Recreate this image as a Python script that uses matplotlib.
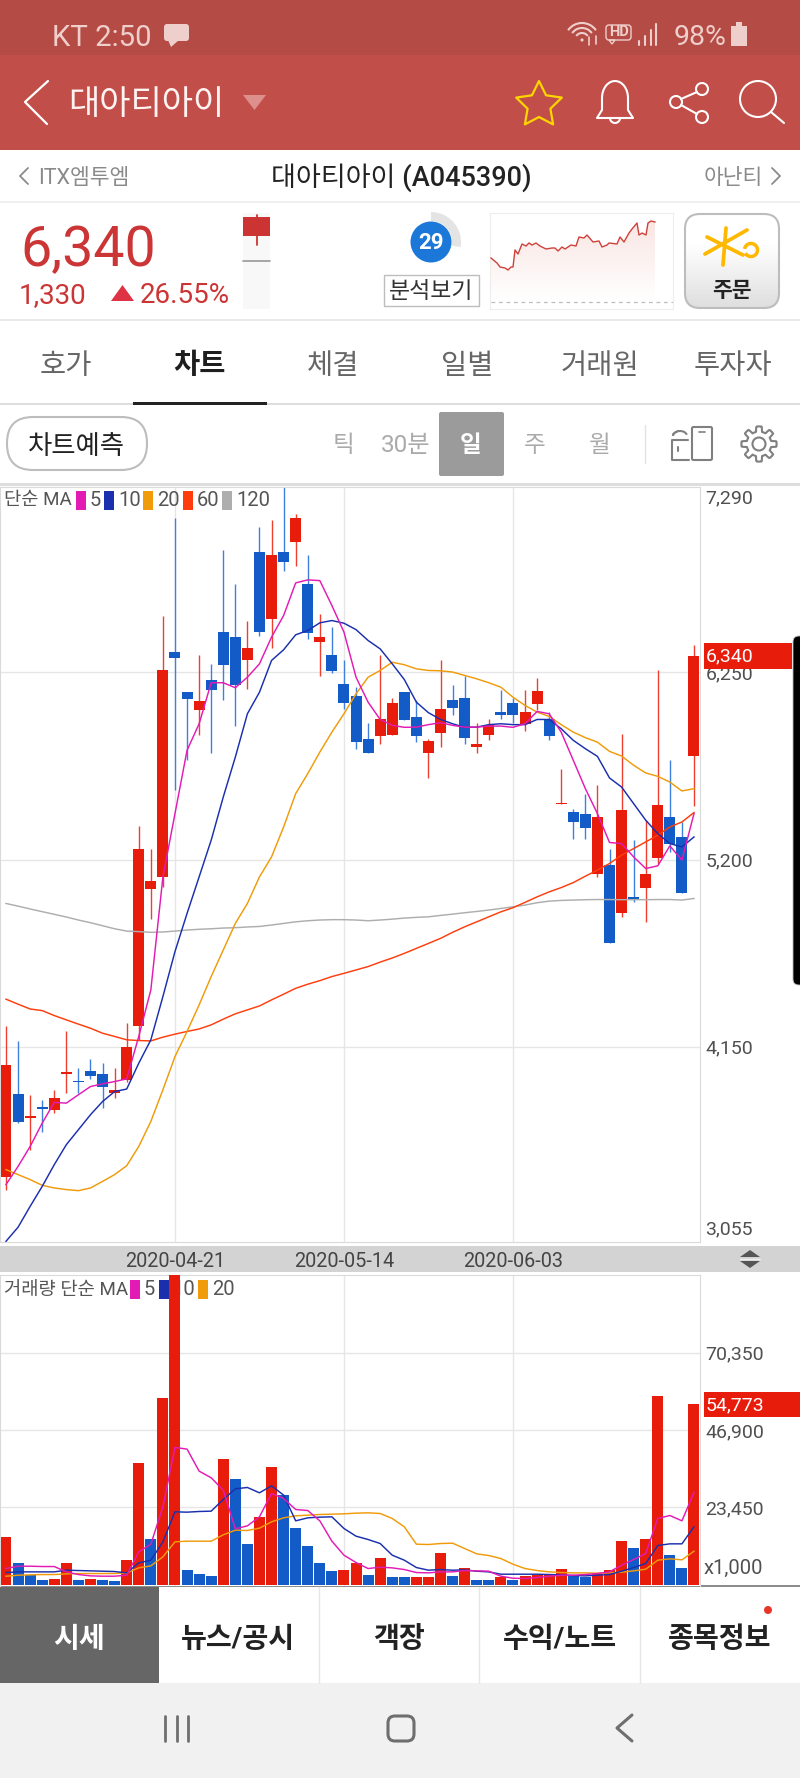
import numpy as np
import matplotlib
matplotlib.use('Agg')
import matplotlib.pyplot as plt
from matplotlib.colors import LinearSegmentedColormap
from matplotlib.patches import Rectangle, FancyBboxPatch, Circle, Wedge, Polygon, Arc

plt.rcParams['font.family'] = ['Roboto', 'Noto Sans CJK KR', 'DejaVu Sans']

W, H = 800, 1778

opens = [3418, 3885, 3752, 3810, 3793, 3995, 3958, 4015, 3995, 3890, 3961, 4267, 5033, 5103, 6367, 6138, 6040, 6209, 6477,
         6448, 6321, 6927, 6550, 6927, 6980, 6748, 6420, 6349, 6186, 6117, 5878, 5891, 5900, 6138, 5998, 5800, 5912, 6096,
         6108, 5830, 5900, 6027, 6076, 5958, 6070, 5986, 5510, 5467, 5458, 5122, 5167, 4902, 4988, 5040, 5210, 5437, 5327, 5779]
closes = [4049, 3728, 3763, 3802, 3864, 4007, 3950, 3987, 3927, 3909, 4148, 5258, 5079, 6266, 6330, 6100, 6087, 6149, 6289,
          6181, 6388, 6479, 6907, 6869, 7116, 6470, 6448, 6257, 6080, 5859, 5800, 5986, 6078, 5981, 5891, 5867, 6046, 6052,
          5882, 5846, 5957, 6009, 6009, 6026, 6147, 5891, 5518, 5411, 5380, 5437, 4730, 5477, 4980, 5118, 5508, 5290, 5010, 6340]
highs = [4264, 4185, 3881, 3853, 3905, 4239, 4030, 4084, 4058, 4030, 4282, 5389, 5258, 6569, 7116, 6138, 6349, 6298, 6937,
         6746, 6537, 7067, 7107, 7288, 7138, 6909, 6578, 6507, 6321, 6167, 5968, 6349, 6108, 6138, 6093, 5878, 6317, 6177,
         6229, 5968, 5986, 6149, 6108, 6149, 6218, 6027, 5708, 5486, 5570, 5617, 5258, 5906, 5309, 5424, 6266, 5757, 5411, 6406]
lows = [3349, 3722, 3569, 3672, 3778, 3890, 3890, 3970, 3806, 3862, 3955, 4189, 4865, 5044, 5589, 5760, 5897, 5800, 6098,
        5949, 6158, 6457, 6388, 6817, 6849, 6438, 6229, 6248, 6046, 5820, 5800, 5850, 5900, 5981, 5859, 5660, 5831, 6009,
        5850, 5800, 5869, 5988, 5968, 5921, 6037, 5871, 5510, 5318, 5318, 5100, 4730, 4876, 4963, 4851, 5178, 5240, 5010, 5499]

ma5 = [3377, 3479, 3591, 3722, 3838, 3834, 3881, 3927, 3942, 3955, 3970, 4208, 4469, 5103, 5458, 5813, 5962, 6192, 6192,
       6164, 6223, 6298, 6448, 6569, 6752, 6769, 6765, 6625, 6476, 6223, 6083, 5986, 5953, 5942, 5943, 5957, 5968, 5953,
       5943, 5943, 5949, 5949, 5942, 5962, 6031, 6018, 5915, 5757, 5598, 5458, 5296, 5290, 5215, 5150, 5165, 5277, 5197, 5458]
ma10 = [3059, 3138, 3255, 3367, 3489, 3601, 3685, 3769, 3843, 3899, 3913, 4058, 4189, 4432, 4684, 4898, 5103, 5309, 5551,
        5775, 6018, 6139, 6317, 6377, 6461, 6485, 6528, 6541, 6526, 6490, 6429, 6382, 6298, 6210, 6083, 6024, 5986, 5962,
        5942, 5943, 5957, 5962, 5957, 5957, 5986, 5986, 5934, 5869, 5822, 5779, 5658, 5607, 5514, 5421, 5346, 5290, 5271, 5327]
ma20 = [3461, 3433, 3405, 3373, 3358, 3349, 3343, 3358, 3395, 3433, 3483, 3591, 3731, 3909, 4095, 4236, 4385, 4544, 4693,
        4842, 4954, 5103, 5215, 5383, 5570, 5682, 5803, 5915, 6018, 6130, 6223, 6261, 6307, 6293, 6270, 6261, 6259, 6252,
        6233, 6214, 6192, 6167, 6111, 6065, 6027, 6003, 5957, 5915, 5884, 5859, 5807, 5781, 5729, 5686, 5667, 5635, 5585, 5598]
ma60 = [4417, 4389, 4362, 4353, 4325, 4301, 4277, 4254, 4226, 4208, 4189, 4185, 4183, 4204, 4221, 4236, 4250, 4273, 4305,
        4335, 4357, 4379, 4413, 4445, 4478, 4501, 4521, 4544, 4562, 4581, 4600, 4625, 4648, 4674, 4702, 4730, 4758, 4792,
        4823, 4851, 4879, 4907, 4930, 4960, 4991, 5019, 5043, 5071, 5107, 5141, 5178, 5225, 5262, 5299, 5337, 5383, 5411, 5464]
ma120 = [4954, 4939, 4923, 4908, 4893, 4878, 4861, 4846, 4829, 4812, 4799, 4796, 4792, 4794, 4799, 4805, 4809, 4812, 4816,
         4818, 4822, 4825, 4833, 4842, 4851, 4857, 4861, 4863, 4863, 4861, 4857, 4861, 4866, 4872, 4876, 4879, 4887, 4894,
         4902, 4909, 4917, 4926, 4935, 4945, 4958, 4967, 4971, 4973, 4975, 4976, 4976, 4975, 4975, 4975, 4976, 4976, 4973, 4982]

volumes = [14454, 6772, 2931, 1516, 1819, 6570, 1516, 1920, 1617, 1314, 7682, 36995, 13949, 56500, 98000, 4650, 3437, 2830,
           38208, 32042, 12433, 20620, 35681, 27190, 17285, 11725, 6570, 4245, 4650, 6570, 2931, 8289, 2325, 2325, 2527, 2527,
           9603, 2830, 5256, 1617, 1516, 2325, 1617, 2628, 2931, 3437, 4751, 3133, 2325, 3437, 4650, 13343, 11321, 13949,
           57312, 9198, 5155, 54773]
# volume bars follow the change from the day before, not the candle body
vol_sides = 'RBBBRRBRBBRRBRRBBBRBBRRBBBBBRRBRBBRRRBRBBRBRRRRBBRRRBRRBBR'
vol_ma5 = [4953, 5660, 5660, 5559, 5559, 3942, 3133, 2729, 2628, 2628, 2931, 10007, 12332, 23653, 41645, 41140, 34468, 32447,
           28707, 16981, 17891, 20620, 27696, 26180, 22844, 22541, 19407, 13241, 8996, 6772, 4953, 5357, 5155, 4650, 3740, 3639,
           3942, 3942, 4346, 4245, 4144, 2628, 2022, 1921, 2224, 2628, 2931, 2931, 3133, 3437, 3942, 5964, 7682, 9502, 20115,
           21025, 19407, 28000]
vol_ma10 = [3740, 3942, 3942, 3942, 3942, 4448, 4346, 4245, 4144, 4043, 3639, 6671, 7480, 13039, 22137, 22035, 22238, 22339,
            25876, 29111, 29515, 27898, 30021, 27190, 19407, 20317, 20519, 20620, 17083, 14758, 13747, 12534, 8996, 7480, 5256,
            4448, 4650, 4448, 4549, 4144, 3942, 3235, 3235, 3235, 3235, 3133, 3032, 2830, 2729, 2931, 3133, 4144, 5256, 6469,
            11927, 12433, 12433, 17588]
vol_ma20 = [2628, 2931, 3032, 3133, 3133, 3336, 3437, 3437, 3437, 3437, 3639, 5155, 5762, 8491, 13039, 13241, 13241, 13241,
            15162, 16577, 16476, 17184, 19104, 20317, 20924, 21126, 21328, 21429, 21530, 21732, 21833, 21631, 20115, 17588,
            12332, 12231, 12534, 12635, 11018, 9400, 8895, 7985, 6267, 4953, 4346, 3942, 3740, 3639, 3639, 3538, 3639, 3841,
            4245, 4751, 7480, 7884, 7581, 10209]

price_ticks = [6250, 5200, 4150]
price_labels = ['6,250', '5,200', '4,150']
vol_ticks = [23450, 46900, 70350]
vol_labels = ['23,450', '46,900', '70,350']
date_ticks = [14, 28, 42]
date_labels = ['2020-04-21', '2020-05-14', '2020-06-03']
tab_names = ['호가', '차트', '체결', '일별', '거래원', '투자자']
bottom_tabs = ['시세', '뉴스/공시', '객장', '수익/노트', '종목정보']

# small intraday line in the header, x and y are in its own box
spark_x = [0, 6, 9, 14, 17, 20, 22, 24, 27, 31, 35, 38, 41, 45, 49, 55, 61, 64, 67, 71, 74, 80, 85, 88, 93, 96, 102, 108,
           111, 116, 118, 126, 129, 133, 138, 141, 146, 148, 151, 155, 157, 160, 164]
spark_y = [45, 50, 54, 55, 57, 54, 54, 37, 41, 31, 33, 30, 32, 30, 33, 36, 35, 35, 38, 34, 36, 32, 33, 24, 25, 22, 29, 28,
           34, 32, 30, 31, 24, 29, 20, 16, 10, 22, 20, 22, 10, 8, 9]

RED = '#E81C0A'
BLUE = '#135CC8'
RED_WICK = '#EF3F2E'
BLUE_WICK = '#3F7FDD'
C_MA5 = '#E31BB5'
C_MA10 = '#1A2FAE'
C_MA20 = '#F09B0A'
C_MA60 = '#FF3D0C'
C_MA120 = '#AEAEAE'
GRID = '#E6E6E6'
BODY_W = 0.91
STEP = 12.07
X0 = 6.0


def px_axes(fig, left, top, right, bottom, z):
    return fig.add_axes([left / W, 1 - bottom / H, (right - left) / W, (bottom - top) / H], zorder=z)


def rect(ax, x0, y0, x1, y1, color, z=1):
    ax.add_patch(Rectangle((x0, y0), x1 - x0, y1 - y0, fc=color, ec='none', zorder=z))


def line(ax, xs, ys, color, lw=1.2, z=3):
    ax.plot(xs, ys, color=color, lw=lw, solid_capstyle='round', solid_joinstyle='round', zorder=z)


def panel_style(ax):
    ax.set_xlim((0 - X0) / STEP, (700 - X0) / STEP)
    ax.set_axisbelow(True)
    ax.grid(True, color=GRID, lw=1.0)
    for name, sp in ax.spines.items():
        sp.set_color('#DADADA')
        sp.set_linewidth(0.8)
    ax.yaxis.tick_right()
    ax.tick_params(axis='both', length=0, labelsize=14, labelcolor='#505050')
    ax.tick_params(axis='y', pad=4)


def legend_row(ax, title, title_x, items, y, h):
    # items: (square left, text left, colour, label), all in pixels
    trans = ax.figure.transFigure
    ax.text(title_x / W, 1 - (y + 0.5) / H, title, transform=trans, fontsize=13.5, color='#555555', va='center', zorder=1)
    for sq, tx, col, lab in items:
        ax.add_patch(Rectangle((sq / W, 1 - (y + h) / H), 9.5 / W, 2 * h / H, transform=trans, fc=col, ec='none', zorder=1))
        ax.text(tx / W, 1 - (y + 0.5) / H, lab, transform=trans, fontsize=14.5, color='#555555', va='center', zorder=1)


fig = plt.figure(figsize=(W / 100, H / 100), dpi=100, facecolor='white')

ui = px_axes(fig, 0, 0, W, H, 0)
ui.set_xlim(0, W)
ui.set_ylim(H, 0)
ui.axis('off')

# status bar and header
rect(ui, 0, 0, W, 55, '#B54B45')
rect(ui, 0, 55, W, 150, '#C24E4A')
ST = '#EFCFCB'
ui.text(52, 38, 'KT 2:50', fontsize=21.2, color=ST, va='center')
ui.add_patch(FancyBboxPatch((164, 24), 25, 17, boxstyle='round,pad=0,rounding_size=3', fc=ST, ec='none'))
ui.add_patch(Polygon([[168, 40], [171, 47], [179, 40]], fc=ST, ec='none'))
for r in [7, 12, 17]:
    ui.add_patch(Arc((582, 40), 2 * r, 2 * r, theta1=215, theta2=325, color=ST, lw=1.5))
ui.add_patch(Circle((582, 40), 1.6, fc=ST, ec='none'))
line(ui, [589, 589], [37, 45], ST, 1.2)
line(ui, [596, 596], [36, 44], ST, 1.2)
ui.add_patch(FancyBboxPatch((606, 25), 25, 15, boxstyle='round,pad=0,rounding_size=3', fc='none', ec=ST, lw=1))
ui.add_patch(Polygon([[609, 40], [612, 44], [615, 40]], fc='none', ec=ST, lw=1))
ui.text(618.5, 32.5, 'HD', fontsize=10.5, color=ST, ha='center', va='center', fontweight='bold')
for bx, top_y in zip([639, 645, 651, 656], [41, 36, 30, 24]):
    line(ui, [bx, bx], [top_y, 45], ST, 1.5)
ui.text(674, 37.5, '98%', fontsize=20.5, color=ST, va='center')
rect(ui, 731, 26, 747, 46, ST, 2)
rect(ui, 736, 22, 742, 26, ST, 2)

line(ui, [48, 25, 47], [81, 102, 124], '#FFFFFF', 1.6)
ui.text(68, 105, '대아티아이', fontsize=24.5, color='#FFF4F2', va='center')
ui.add_patch(Polygon([[243, 95], [266, 95], [254.5, 110]], fc='#DC8F8B', ec='none'))

ang = np.linspace(-np.pi / 2, 1.5 * np.pi, 11)[:-1]
rad = np.where(np.arange(10) % 2 == 0, 24, 12)
ui.add_patch(Polygon(np.c_[539 + rad * np.cos(ang), 105 + rad * np.sin(ang)], fc='none', ec='#FFD500', lw=1.6, joinstyle='round'))
ui.add_patch(Arc((615, 98), 26, 34, theta1=180, theta2=360, color='white', lw=1.5))
line(ui, [602, 602, 597, 633, 628, 628], [98, 110, 118, 118, 110, 98], 'white', 1.5)
ui.add_patch(Arc((615, 118), 10, 10, theta1=0, theta2=180, color='white', lw=1.5))
for c in [(702, 89), (702, 117), (676, 102)]:
    ui.add_patch(Circle(c, 6, fc='none', ec='white', lw=1.5))
line(ui, [681, 697], [99, 92], 'white', 1.5)
line(ui, [681, 697], [105, 114], 'white', 1.5)
ui.add_patch(Circle((758, 99), 18, fc='none', ec='white', lw=1.5))
line(ui, [771, 784], [112, 123], 'white', 1.5)

# stock name row
GR = '#8A8A8A'
line(ui, [28, 20, 28], [168, 176, 184], GR, 1.3)
ui.text(38, 178, 'ITX엠투엠', fontsize=15.5, color=GR, va='center')
ui.text(401, 178, '대아티아이 (A045390)', fontsize=19.5, color='#222222', va='center', ha='center', fontweight='medium')
ui.text(704, 178, '아난티', fontsize=15.5, color=GR, va='center')
line(ui, [772, 780, 772], [168, 176, 184], GR, 1.3)
rect(ui, 0, 201, W, 203, '#EFEFEF')

# price block
ui.text(20, 250.5, '6,340', fontsize=40, color='#CC3535', va='center')
ui.text(19, 295.5, '1,330', fontsize=20, color='#CC3535', va='center')
ui.add_patch(Polygon([[111, 301], [134, 301], [122.5, 285]], fc='#DD3344', ec='none'))
ui.text(140, 295.5, '26.55%', fontsize=20, color='#CC3535', va='center')
rect(ui, 243, 213, 270, 309, '#F8F8F8')
rect(ui, 243, 217, 270, 236, '#CC3333', 2)
line(ui, [256.5, 256.5], [215, 245], '#CC3333', 1.3)
line(ui, [243, 270], [261, 261], '#999999', 1.2)
ui.add_patch(Wedge((431, 242), 30, -90, 10, width=9, fc='#E4E4E4', ec='none'))
ui.add_patch(Circle((431, 242), 20.5, fc='#1B78D8', ec='none', zorder=2))
ui.text(431, 243, '29', fontsize=16, color='white', fontweight='bold', ha='center', va='center', zorder=3)
ui.add_patch(Rectangle((384, 275), 95, 31, fc='white', ec='#BDBDBD', lw=1))
ui.text(431.5, 291.5, '분석보기', fontsize=16.5, color='#333333', ha='center', va='center')

spark = px_axes(fig, 490, 213, 673, 309, 1)
spark.set_xticks([])
spark.set_yticks([])
for sp in spark.spines.values():
    sp.set_color('#EDEDED')
grad = np.linspace(1, 0, 64).reshape(-1, 1)
im = spark.imshow(grad, extent=[0, 164, 88, 8], cmap=LinearSegmentedColormap.from_list('g', ['#FFFFFF', '#F9E6E3']),
                  aspect='auto', zorder=1)
fill = Polygon(list(zip(spark_x, spark_y)) + [(164, 88), (0, 88)], fc='none', ec='none', transform=spark.transData)
spark.add_patch(fill)
im.set_clip_path(fill)
spark.set_xlim(-1, 182)
spark.set_ylim(96, 0)
spark.plot(spark_x, spark_y, color='#D0403A', lw=1.0, zorder=3)
spark.plot([0, 182], [88.5, 88.5], color='#BDBDBD', lw=0.9, ls=(0, (3, 3)), zorder=3)

order = FancyBboxPatch((685, 214), 94, 94, boxstyle='round,pad=0,rounding_size=15', fc='none', ec='#BDBDBD', lw=1.5, zorder=3)
ui.add_patch(order)
shade = np.interp(np.linspace(0, 1, 94), [0, 0.3, 1], [1.0, 1.0, 0.87]).reshape(-1, 1)
g = ui.imshow(shade, extent=[685, 779, 308, 214], cmap='gray', vmin=0, vmax=1, aspect='auto', zorder=1)
g.set_clip_path(order)
ui.set_xlim(0, W)
ui.set_ylim(H, 0)
KB = '#FFB800'
line(ui, [726, 723], [228, 265], KB, 2.7, 4)
line(ui, [707, 743], [237, 255], KB, 2.7, 4)
line(ui, [705, 747], [254, 230], KB, 2.7, 4)
ui.add_patch(Arc((751, 250), 13, 13, theta1=-170, theta2=150, color=KB, lw=2.5, zorder=4))
ui.text(732, 291, '주문', fontsize=15.5, color='#222222', ha='center', va='center', fontweight='bold', zorder=4)
rect(ui, 0, 319, W, 321, '#E8E8E8')

# tabs
tab_x = [66, 200, 333, 467, 600, 733]
for tx, name in zip(tab_x, tab_names):
    sel = name == '차트'
    ui.text(tx, 366, name, fontsize=20.5, color='#1E1E1E' if sel else '#666666', ha='center', va='center',
            fontweight='bold' if sel else 'normal')
rect(ui, 0, 403, W, 405, '#DDDDDD')
rect(ui, 133, 402, 267, 405, '#222222', 2)

# chart toolbar
ui.add_patch(FancyBboxPatch((7, 417), 140, 53, boxstyle='round,pad=0,rounding_size=26', fc='white', ec='#BDBDBD', lw=1.5))
ui.text(76, 446.5, '차트예측', fontsize=19, color='#222222', ha='center', va='center')
ui.text(343, 446, '틱', fontsize=17, color='#AAAAAA', ha='center', va='center')
ui.text(406, 446, '30분', fontsize=17.5, color='#AAAAAA', ha='center', va='center')
ui.add_patch(FancyBboxPatch((439, 412), 65, 64, boxstyle='round,pad=0,rounding_size=2', fc='#9B9B9B', ec='none'))
ui.text(471, 446, '일', fontsize=17, color='white', ha='center', va='center', fontweight='bold')
ui.text(535, 446, '주', fontsize=17, color='#AAAAAA', ha='center', va='center')
ui.text(600, 446, '월', fontsize=17, color='#AAAAAA', ha='center', va='center')
line(ui, [645, 645], [425, 463], '#E2E2E2', 1)
IC = '#808080'
ui.add_patch(FancyBboxPatch((692, 427), 20, 33, boxstyle='round,pad=0,rounding_size=1.5', fc='none', ec=IC, lw=1.5))
line(ui, [699, 705], [432, 432], IC, 1.2)
line(ui, [688, 672, 672, 689], [440, 440, 460, 460], IC, 1.5)
ui.add_patch(Arc((680, 436), 14, 10, theta1=180, theta2=350, color=IC, lw=1.5))
line(ui, [673, 678], [434, 431], IC, 1.3)
line(ui, [678, 678], [447, 451], IC, 1.5)
t = np.linspace(0, 2 * np.pi, 200)
gr = 15 + 2.6 * np.clip(3 * np.cos(8 * t), -1, 1)
ui.add_patch(Polygon(np.c_[759 + gr * np.cos(t), 444 + gr * np.sin(t)], fc='none', ec=IC, lw=1.5, joinstyle='round'))
ui.add_patch(Circle((759, 444), 6.5, fc='none', ec=IC, lw=1.5))
rect(ui, 0, 483, W, 486, '#DDDDDD')

# bar with the dates between the panels
rect(ui, 0, 1246, W, 1272, '#D3D3D3')
ui.add_patch(Polygon([[740, 1257], [760, 1257], [750, 1250]], fc='#555555', ec='none'))
ui.add_patch(Polygon([[740, 1261], [760, 1261], [750, 1268]], fc='#555555', ec='none'))
line(ui, [740, 760], [1259, 1259], '#EEEEEE', 1)

# bottom navigation
rect(ui, 0, 1586, W, 1683, 'white')
rect(ui, 0, 1586, 159, 1683, '#666666', 2)
rect(ui, 0, 1585, W, 1587, '#8C8C8C', 3)
for sx in [319, 479, 640]:
    line(ui, [sx, sx], [1587, 1683], '#E6E6E6', 1)
for tx, name in zip([79, 238, 399, 560, 720], bottom_tabs):
    ui.text(tx, 1639.5, name, fontsize=20.3, color='white' if name == '시세' else '#222222', ha='center', va='center',
            fontweight='bold', zorder=4)
ui.add_patch(Circle((768, 1610), 4, fc='#E8352A', ec='none', zorder=4))
rect(ui, 0, 1683, W, H, '#F1F1F1')
NAV = '#6E6E6E'
for bx in [165, 176.5, 188]:
    line(ui, [bx, bx], [1716, 1741], NAV, 2.0)
ui.add_patch(FancyBboxPatch((388, 1716), 26, 25, boxstyle='round,pad=0,rounding_size=7', fc='none', ec=NAV, lw=2.2, zorder=3))
line(ui, [632, 617, 632], [1715, 1728, 1741], NAV, 2.2)

# price panel
ax = px_axes(fig, 0, 487, 700, 1242, 2)
panel_style(ax)
ax.set_ylim(3055, 7290)
ax.set_yticks(price_ticks, price_labels)
ax.set_xticks(date_ticks, date_labels)
ax.tick_params(axis='x', pad=7, labelsize=14.3, labelcolor='#444444')

xs = np.arange(len(opens))
for i in xs:
    up = closes[i] >= opens[i]
    ax.vlines(i, lows[i], highs[i], color=RED_WICK if up else BLUE_WICK, lw=1.0, zorder=2)
    ax.bar(i, abs(closes[i] - opens[i]), bottom=min(opens[i], closes[i]), width=BODY_W, color=RED if up else BLUE, zorder=3)
for series, col in [(ma120, C_MA120), (ma60, C_MA60), (ma20, C_MA20), (ma10, C_MA10), (ma5, C_MA5)]:
    ax.plot(xs, series, color=col, lw=1.05, zorder=4)
ax.annotate('7,290', (1, 7290), xycoords=('axes fraction', 'data'), xytext=(4, -8), textcoords='offset points',
            fontsize=14, color='#505050', va='center', annotation_clip=False)
ax.annotate('3,055', (1, 3055), xycoords=('axes fraction', 'data'), xytext=(4, 9), textcoords='offset points',
            fontsize=14, color='#505050', va='center', annotation_clip=False)
legend_row(ax, '단순 MA', 4, [(76, 90, C_MA5, '5'), (104, 118, C_MA10, '10'), (143, 157, C_MA20, '20'),
                             (183, 197, C_MA60, '60'), (222, 236, C_MA120, '120')], 500, 9.5)

# volume panel
vx = px_axes(fig, 0, 1275, 700, 1586, 2)
panel_style(vx)
vx.set_ylim(-340, 93900)
vx.set_yticks(vol_ticks, vol_labels)
vx.set_xticks(date_ticks, [])
vx.spines['bottom'].set_visible(False)
vx.bar(xs, volumes, width=BODY_W, color=[RED if s == 'R' else BLUE for s in vol_sides], zorder=3)
for series, col in [(vol_ma20, C_MA20), (vol_ma10, C_MA10), (vol_ma5, C_MA5)]:
    vx.plot(xs, series, color=col, lw=1.05, zorder=4)
legend_row(vx, '거래량 단순 MA', 4, [(130, 144, C_MA5, '5'), (159, 172, C_MA10, '10'), (198, 212, C_MA20, '20')], 1289, 9.5)
ui.text(704, 1568, 'x1,000', fontsize=14.5, color='#505050', va='center')

# overlay for current value flags and the black edge of the phone
top = px_axes(fig, 0, 0, W, H, 5)
top.set_xlim(0, W)
top.set_ylim(H, 0)
top.axis('off')
rect(top, 704, 643, 792, 669, RED)
top.text(706, 656, '6,340', fontsize=14, color='white', va='center')
rect(top, 704, 1392, 800, 1417, RED)
top.text(706, 1405, '54,773', fontsize=14, color='white', va='center')
top.add_patch(FancyBboxPatch((793, 636), 20, 349, boxstyle='round,pad=0,rounding_size=6', fc='black', ec='#BBBBBB', lw=0.6))

fig.savefig('out.png', dpi=100)
